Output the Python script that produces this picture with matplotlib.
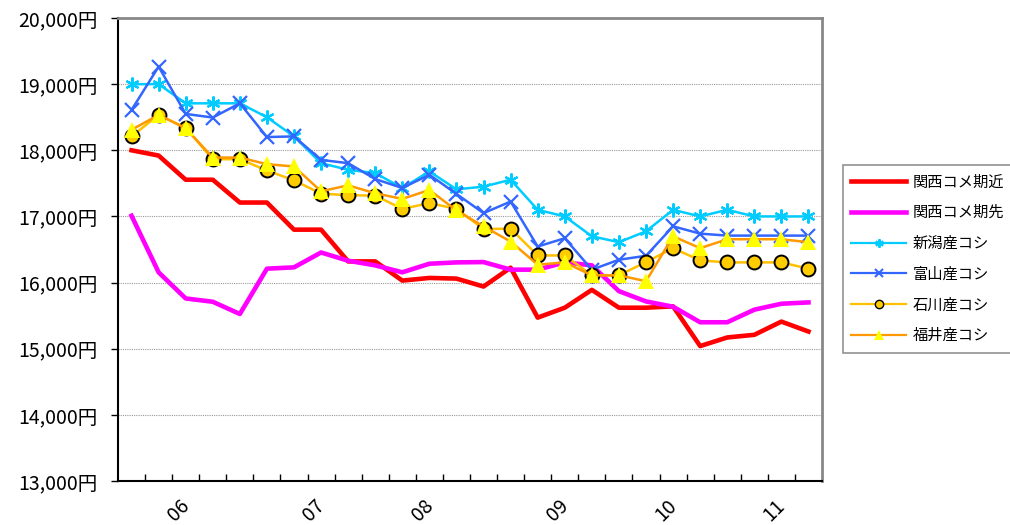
import numpy as np
import matplotlib
matplotlib.use("Agg")
import matplotlib.pyplot as plt
from matplotlib.lines import Line2D
import matplotlib.transforms as mtransforms

plt.rcParams['font.family'] = ['Noto Sans CJK JP', 'DejaVu Sans']

# ---- data ----
n_points = 26
year_labels = ["06", "07", "08", "09", "10", "11"]
year_label_idx = [2, 7, 11, 16, 20, 24]

kansai_near = [18000, 17920, 17555, 17555, 17210, 17210, 16800, 16800, 16320, 16320,
               16030, 16070, 16060, 15940, 16225, 15470, 15620, 15890, 15620, 15620,
               15640, 15040, 15170, 15210, 15410, 15260]
kansai_far = [17010, 16155, 15760, 15710, 15525, 16210, 16230, 16455, 16330, 16260,
              16155, 16285, 16305, 16310, 16195, 16195, 16305, 16260, 15870, 15715,
              15635, 15400, 15400, 15590, 15680, 15700]
niigata = [19000, 19000, 18710, 18710, 18710, 18500, 18210, 17805, 17705, 17655,
           17430, 17680, 17410, 17450, 17555, 17100, 17000, 16700, 16610, 16775,
           17100, 17000, 17100, 17000, 17000, 17000]
toyama = [18610, 19265, 18550, 18495, 18710, 18200, 18210, 17855, 17805, 17565,
          17430, 17630, 17340, 17050, 17225, 16545, 16670, 16195, 16345, 16405,
          16850, 16740, 16710, 16710, 16710, 16710]
ishikawa = [18210, 18535, 18335, 17865, 17865, 17695, 17545, 17345, 17320, 17315,
            17115, 17200, 17115, 16810, 16815, 16410, 16410, 16110, 16110, 16310,
            16520, 16335, 16305, 16305, 16305, 16210]
fukui = [18310, 18535, 18335, 17890, 17890, 17790, 17755, 17380, 17470, 17350,
         17265, 17400, 17090, 16850, 16620, 16270, 16305, 16110, 16110, 16020,
         16700, 16520, 16655, 16655, 16655, 16610]

series_names = ["関西コメ期近", "関西コメ期先", "新潟産コシ", "富山産コシ", "石川産コシ", "福井産コシ"]

y_ticks = [13000, 14000, 15000, 16000, 17000, 18000, 19000, 20000]

# ---- figure ----
fig = plt.figure(figsize=(10.1, 5.25), dpi=100)
ax = fig.add_axes([118 / 1010, 1 - 481 / 525, 704 / 1010, 463 / 525])

x = np.arange(n_points)

ax.plot(x, kansai_near, color="#FF0000", lw=3.3, zorder=3)
ax.plot(x, kansai_far, color="#FF00FF", lw=3.3, zorder=3)
ax.plot(x, niigata, color="#00CCFF", lw=1.8, marker=(6, 2, 0), ms=10, mew=1.6,
        mec="#00CCFF", zorder=4)
ax.plot(x, toyama, color="#3366FF", lw=1.8, marker="x", ms=10, mew=1.6,
        mec="#3366FF", zorder=5)
ax.plot(x, ishikawa, color="#FFC000", lw=1.8, marker="o", ms=10, mfc="#FFCC00",
        mec="black", mew=1.4, zorder=6)
ax.plot(x, fukui, color="#FF9900", lw=1.8, marker="^", ms=11, mfc="#FFFF00",
        mec="#FFFF00", mew=0, zorder=7)

ax.set_xlim(-0.5, n_points - 0.5)
ax.set_ylim(13000, 20000)

# y axis
ax.set_yticks(y_ticks)
ax.set_yticklabels([f"{v:,}円" for v in y_ticks], fontsize=14)
ax.tick_params(axis="y", direction="out", length=5, width=1, pad=10, colors="black")
for v in y_ticks[1:-1]:
    ax.axhline(v, color="#999999", lw=0.8, ls=(0, (1, 1)), zorder=1)

# x axis: category boundaries as inward ticks
ax.set_xticks(np.arange(0.5, n_points - 0.5, 1.0))
ax.set_xticklabels([])
ax.tick_params(axis="x", direction="in", length=5, width=1, colors="black")

off = mtransforms.offset_copy(ax.get_xaxis_transform(), fig=fig, x=-7, y=-29, units="dots")
for lbl, idx in zip(year_labels, year_label_idx):
    ax.text(idx, 0, lbl, transform=off, rotation=45, ha="center", va="center",
            fontsize=14)

for side in ["left", "bottom"]:
    ax.spines[side].set_color("black")
    ax.spines[side].set_linewidth(1.5)
for side in ["top", "right"]:
    ax.spines[side].set_color("#888888")
    ax.spines[side].set_linewidth(2)

# legend
handles = [
    Line2D([], [], color="#FF0000", lw=3.3),
    Line2D([], [], color="#FF00FF", lw=3.3),
    Line2D([], [], color="#00CCFF", lw=1.6, marker=(6, 2, 0), ms=6, mew=1.5),
    Line2D([], [], color="#3366FF", lw=1.6, marker="x", ms=6, mew=1.5),
    Line2D([], [], color="#FFC000", lw=1.6, marker="o", ms=6, mfc="#FFCC00", mec="black", mew=1),
    Line2D([], [], color="#FF9900", lw=1.6, marker="^", ms=7, mfc="#FFFF00", mec="#FFFF00", mew=0),
]
leg = fig.legend(handles, series_names, loc="upper left",
                 bbox_to_anchor=(843 / 1010, 1 - 165 / 525), fontsize=11,
                 frameon=True, fancybox=False, shadow=False, borderpad=0.55,
                 handlelength=3.6, handletextpad=0.4, labelspacing=0.9,
                 borderaxespad=0)
leg.get_frame().set_edgecolor("#777777")
leg.get_frame().set_linewidth(1.2)

fig.savefig("out.png", dpi=100)
